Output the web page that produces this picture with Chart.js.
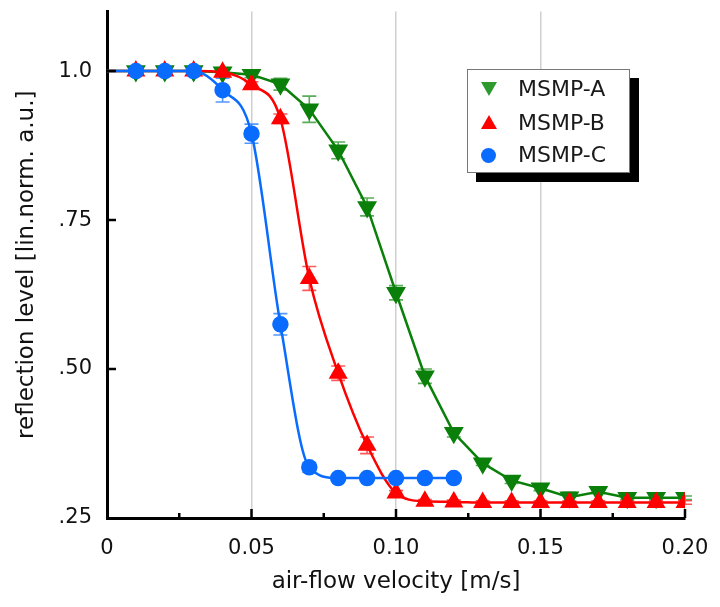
<!DOCTYPE html>
<html>
<head>
<meta charset="utf-8">
<script src="https://cdn.jsdelivr.net/npm/chart.js@4"></script>
<style>
    html, body { margin: 0; padding: 0; background: #fff; }
    #wrap { position: relative; width: 720px; height: 607px; }
    #legend {
        position: absolute; left: 467px; top: 69px; width: 161px; height: 102px;
        border: 1px solid #777; background: #fff; box-shadow: 9px 9px 0 #000;
        font-family: "DejaVu Sans", sans-serif; font-size: 22px; color: #1a1a1a;
    }
    .row { position: absolute; left: 50px; height: 24px; line-height: 24px; }
    .mark { position: absolute; left: 13px; }
    .down { width: 0; height: 0; border-left: 8px solid transparent; border-right: 8px solid transparent; border-top: 14px solid #2e9a2e; }
    .up { width: 0; height: 0; border-left: 8px solid transparent; border-right: 8px solid transparent; border-bottom: 14px solid #ff0000; }
    .dot { width: 15px; height: 15px; border-radius: 50%; background: #0a6cff; }
</style>
</head>
<body>
<div id="wrap">
    <canvas id="chart" width="720" height="607"></canvas>
    <div id="legend">
        <div class="mark down" style="top:12px"></div><div class="row" style="top:7px">MSMP-A</div>
        <div class="mark up" style="top:45px"></div><div class="row" style="top:41px">MSMP-B</div>
        <div class="mark dot" style="top:78px"></div><div class="row" style="top:73px">MSMP-C</div>
    </div>
</div>
<script>
// Air-flow velocity [m/s] (first entry is the curve start at 0, no marker)
const velocity = [0, 0.01, 0.02, 0.03, 0.04, 0.05, 0.06, 0.07, 0.08, 0.09, 0.10,
    0.11, 0.12, 0.13, 0.14, 0.15, 0.16, 0.17, 0.18, 0.19, 0.20];

// Reflection level
const msmpA = [1.0, 1.0, 1.0, 1.0, 0.998, 0.994, 0.978, 0.936, 0.867, 0.772, 0.628,
    0.488, 0.393, 0.342, 0.313, 0.300, 0.285, 0.294, 0.284, 0.284, 0.284];
const msmpB = [1.0, 1.0, 1.0, 1.0, 0.998, 0.977, 0.920, 0.652, 0.493, 0.372, 0.292,
    0.278, 0.277, 0.276, 0.276, 0.276, 0.276, 0.276, 0.276, 0.276, 0.276];
const msmpC = [1.0, 1.0, 1.0, 1.0, 0.968, 0.895, 0.575, 0.335, 0.317, 0.317, 0.317,
    0.317, 0.317];

// Error bar half-widths
const errA = [0, 0.003, 0.003, 0.003, 0.004, 0.005, 0.010, 0.022, 0.014, 0.015, 0.012,
    0.012, 0.007, 0.004, 0.005, 0.004, 0.008, 0.003, 0.003, 0.003, 0.003];
const errB = [0, 0.003, 0.003, 0.003, 0.004, 0.005, 0.008, 0.020, 0.012, 0.014, 0.004,
    0.003, 0.003, 0.003, 0.003, 0.003, 0.003, 0.003, 0.003, 0.003, 0.003];
const errC = [0, 0.003, 0.003, 0.003, 0.020, 0.016, 0.018, 0.008, 0.003, 0.003, 0.003,
    0.003, 0.003];

// Axis ticks
const xTicks = [0, 0.05, 0.10, 0.15, 0.20];
const xTickLabels = ['0', '0.05', '0.10', '0.15', '0.20'];
const xMarks = [0.025, 0.05, 0.075, 0.10, 0.125, 0.15, 0.175, 0.20];
const yTicks = [0.25, 0.50, 0.75, 1.0];
const yTickLabels = ['.25', '.50', '.75', '1.0'];

const FONT = '"DejaVu Sans", sans-serif';

function toPoints(values) {
    return values.map((v, i) => ({ x: velocity[i], y: v }));
}

// Error bars drawn through the y scale, under the markers
const errorBars = {
    id: 'errorBars',
    beforeDatasetsDraw(chart) {
        const ctx = chart.ctx;
        const ys = chart.scales.y;
        chart.data.datasets.forEach((ds, i) => {
            const meta = chart.getDatasetMeta(i);
            ctx.save();
            ctx.strokeStyle = ds.errorColor;
            ctx.lineWidth = 1.6;
            meta.data.forEach((pt, j) => {
                const e = ds.errors[j];
                if (!e) return;
                const v = ds.data[j].y;
                const top = ys.getPixelForValue(v + e);
                const bot = ys.getPixelForValue(v - e);
                ctx.beginPath();
                ctx.moveTo(pt.x, top); ctx.lineTo(pt.x, bot);
                ctx.moveTo(pt.x - 7, top); ctx.lineTo(pt.x + 7, top);
                ctx.moveTo(pt.x - 7, bot); ctx.lineTo(pt.x + 7, bot);
                ctx.stroke();
            });
            ctx.restore();
        });
    }
};

// Inward tick marks
const tickMarks = {
    id: 'tickMarks',
    afterDraw(chart) {
        const ctx = chart.ctx;
        const xs = chart.scales.x, ys = chart.scales.y;
        ctx.save();
        ctx.strokeStyle = '#000';
        ctx.lineWidth = 2.5;
        ctx.beginPath();
        xMarks.forEach(v => {
            const px = xs.getPixelForValue(v);
            const len = Math.abs(v / 0.05 - Math.round(v / 0.05)) < 1e-6 ? 9 : 5;
            ctx.moveTo(px, ys.bottom); ctx.lineTo(px, ys.bottom - len);
        });
        yTicks.slice(1).forEach(v => {
            const py = ys.getPixelForValue(v);
            ctx.moveTo(xs.left, py); ctx.lineTo(xs.left + 9, py);
        });
        ctx.stroke();
        ctx.restore();
    }
};

new Chart(document.getElementById('chart'), {
    type: 'line',
    data: {
        datasets: [
            {
                label: 'MSMP-A',
                data: toPoints(msmpA),
                errors: errA,
                errorColor: 'rgba(0,128,0,0.65)',
                borderColor: '#0a800a',
                backgroundColor: '#0a800a',
                borderWidth: 2.5,
                tension: 0,
                pointStyle: 'triangle',
                rotation: 180,
                pointRadius: c => c.dataIndex === 0 ? 0 : 9,
                order: 2
            },
            {
                label: 'MSMP-B',
                data: toPoints(msmpB),
                errors: errB,
                errorColor: 'rgba(255,0,0,0.65)',
                borderColor: '#ff0000',
                backgroundColor: '#ff0000',
                borderWidth: 2.5,
                cubicInterpolationMode: 'monotone',
                pointStyle: 'triangle',
                pointRadius: c => c.dataIndex === 0 ? 0 : 8.5,
                order: 1
            },
            {
                label: 'MSMP-C',
                data: toPoints(msmpC),
                errors: errC,
                errorColor: 'rgba(10,108,255,0.7)',
                borderColor: '#0a6cff',
                backgroundColor: '#0a6cff',
                borderWidth: 2.5,
                cubicInterpolationMode: 'monotone',
                pointStyle: 'circle',
                pointRadius: c => c.dataIndex === 0 ? 0 : 7,
                order: 0
            }
        ]
    },
    options: {
        responsive: false,
        animation: false,
        layout: { padding: { top: 8, right: 35, left: 0, bottom: 0 } },
        plugins: {
            legend: { display: false },
            tooltip: { enabled: false }
        },
        scales: {
            x: {
                type: 'linear',
                min: 0,
                max: 0.2,
                afterBuildTicks: s => { s.ticks = xTicks.map(v => ({ value: v })); },
                afterFit: s => { s.height = 89; s.paddingLeft = 0; s.paddingRight = 0; },
                ticks: {
                    padding: 18,
                    color: '#111',
                    font: { family: FONT, size: 21 },
                    maxRotation: 0,
                    callback: (v, i) => xTickLabels[i]
                },
                grid: {
                    drawTicks: false,
                    lineWidth: 1.5,
                    color: c => (c.tick && c.tick.value > 0.001 && c.tick.value < 0.199) ? '#cfcfcf' : 'rgba(0,0,0,0)'
                },
                border: { color: '#000', width: 3 },
                title: {
                    display: true,
                    text: 'air-flow velocity [m/s]',
                    color: '#111',
                    font: { family: FONT, size: 23 },
                    padding: { bottom: 11 }
                }
            },
            y: {
                min: 0.25,
                max: 1.1,
                afterBuildTicks: s => { s.ticks = yTicks.map(v => ({ value: v })); },
                afterFit: s => { s.width = 107; s.paddingTop = 0; s.paddingBottom = 0; },
                ticks: {
                    padding: 15,
                    color: '#111',
                    font: { family: FONT, size: 21 },
                    callback: (v, i) => yTickLabels[i]
                },
                grid: { display: false, drawTicks: false },
                border: { color: '#000', width: 3 },
                title: {
                    display: true,
                    text: 'reflection level [lin.norm. a.u.]',
                    color: '#111',
                    font: { family: FONT, size: 23 },
                    padding: { top: 13 }
                }
            }
        }
    },
    plugins: [errorBars, tickMarks]
});
</script>
</body>
</html>
